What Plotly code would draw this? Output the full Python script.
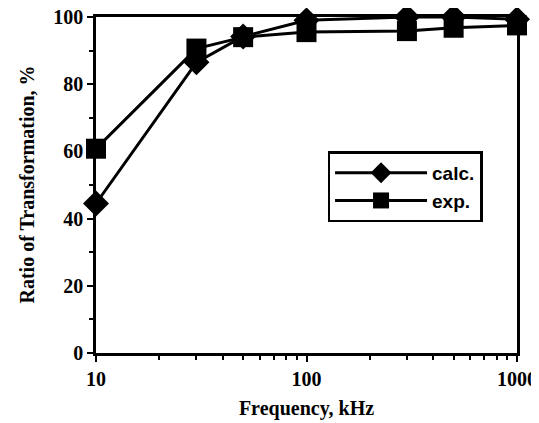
import plotly.graph_objects as go

freq = [10, 30, 50, 100, 300, 500, 1000]
calc = [44.5, 86.5, 94.2, 99.0, 100.0, 100.0, 99.3]
exp_ = [60.8, 90.6, 94.0, 95.5, 95.8, 96.8, 97.5]
x_ticks = [10, 100, 1000]
y_ticks = [0, 20, 40, 60, 80, 100]

serif = "Liberation Serif"

fig = go.Figure()
fig.add_trace(go.Scatter(
    x=freq, y=calc, name="calc.", mode="lines+markers",
    line=dict(color="black", width=3),
    marker=dict(symbol="diamond", size=20, color="black"),
    cliponaxis=False,
))
fig.add_trace(go.Scatter(
    x=freq, y=exp_, name="exp.", mode="lines+markers",
    line=dict(color="black", width=3),
    marker=dict(symbol="square", size=20, color="black"),
    cliponaxis=False,
))

axis_common = dict(
    showline=True, linecolor="black", linewidth=2.5, mirror=True,
    showgrid=False, zeroline=False, automargin=False,
    ticklabeloverflow="allow",
    ticks="outside", ticklen=6, tickwidth=2, tickcolor="black",
    tickfont=dict(family=serif, size=20, color="black", weight="bold"),
)

fig.update_xaxes(
    type="log", range=[1, 3], tickmode="array", tickvals=x_ticks,
    ticktext=[str(v) for v in x_ticks],
    minor=dict(tickmode="array",
               tickvals=[20, 30, 40, 50, 60, 70, 80, 90, 200, 300, 400, 500, 600, 700, 800, 900],
               ticks="outside", ticklen=4, tickwidth=1.5, tickcolor="black"),
    title=dict(text="Frequency, kHz", font=dict(family=serif, size=20, color="black", weight="bold"), standoff=13),
    **axis_common,
)
fig.update_yaxes(
    range=[0, 100], tickmode="array", tickvals=y_ticks,
    minor=dict(tickmode="array", tickvals=[10, 30, 50, 70, 90],
               ticks="outside", ticklen=4, tickwidth=1.5, tickcolor="black"),
    **axis_common,
)

fig.add_annotation(
    text="Ratio of Transformation, %", textangle=-90,
    xref="paper", yref="paper", x=-0.165, y=0.5,
    xanchor="center", yanchor="middle", showarrow=False,
    font=dict(family=serif, size=20, color="black", weight="bold"),
)

# The page body has an 8px default margin, so the figure is offset by 8px;
# size and margins are set so the whole figure fits in the window and the
# plot area lands where the reference has it.
fig.update_layout(
    width=531, height=415,
    margin=dict(l=88, r=22, t=9, b=70),
    paper_bgcolor="white", plot_bgcolor="white",
    legend=dict(
        x=0.55, y=0.6, xanchor="left", yanchor="top",
        bordercolor="black", borderwidth=2.5, bgcolor="white",
        font=dict(family="Liberation Sans", size=19, color="black", weight="bold"),
        itemwidth=92, tracegroupgap=9,
    ),
    showlegend=True,
)

fig.write_html("out.html")
